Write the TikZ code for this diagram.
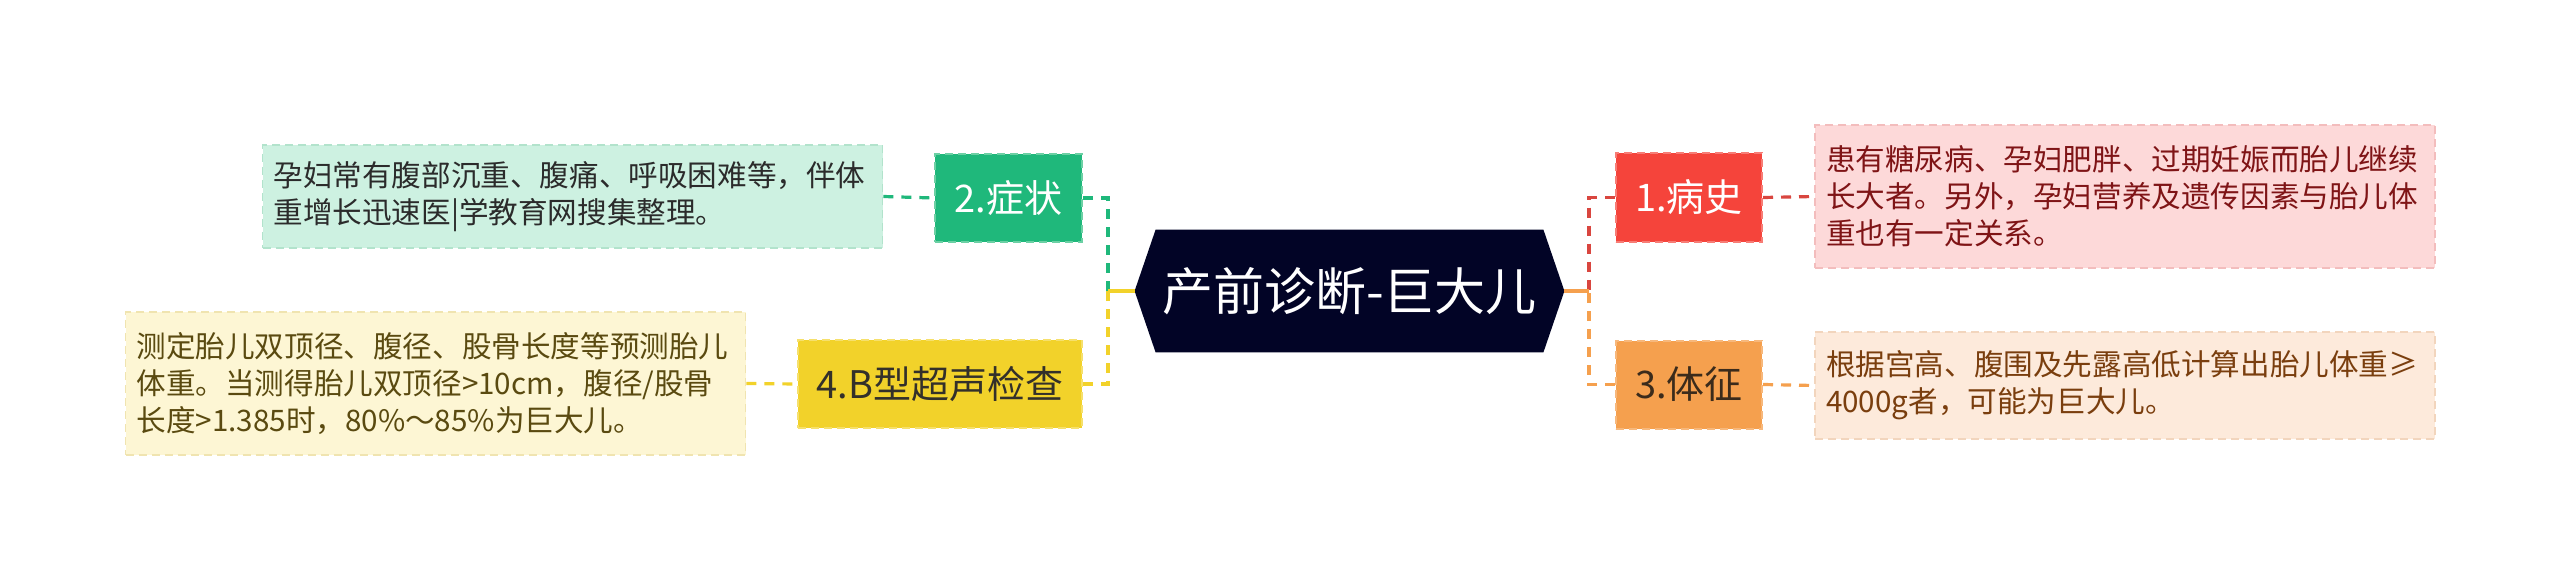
\documentclass[tikz,border=0pt]{standalone}
\usepackage{fontspec}
\setmainfont{Noto Sans CJK SC}
\usetikzlibrary{calc,backgrounds}
\definecolor{gMain}{HTML}{1FB87B}
\definecolor{gBord}{HTML}{6CD0A4}
\definecolor{gLite}{HTML}{CDF1E1}
\definecolor{gLiteB}{HTML}{B2E3CC}
\definecolor{gText}{HTML}{2B2B2B}
\definecolor{yMain}{HTML}{F2D22A}
\definecolor{yBord}{HTML}{F6E06C}
\definecolor{yLite}{HTML}{FDF6D4}
\definecolor{yLiteB}{HTML}{F0E4B0}
\definecolor{yText}{HTML}{5A4A10}
\definecolor{yLabel}{HTML}{33302A}
\definecolor{rMain}{HTML}{F5443B}
\definecolor{rBord}{HTML}{F77D76}
\definecolor{rLite}{HTML}{FDD9D9}
\definecolor{rLiteB}{HTML}{F3BDBD}
\definecolor{rText}{HTML}{7F1416}
\definecolor{rLine}{HTML}{D9463F}
\definecolor{oMain}{HTML}{F5A04E}
\definecolor{oBord}{HTML}{F7B87C}
\definecolor{oLite}{HTML}{FDEADB}
\definecolor{oLiteB}{HTML}{F2D5BD}
\definecolor{oText}{HTML}{7A3E0E}
\definecolor{oLabel}{HTML}{3B2B1B}
\definecolor{navy}{HTML}{020426}
\begin{document}
\begin{tikzpicture}[x=0.5pt,y=-0.5pt,
  mainbox/.style={draw, line width=1pt, dash pattern=on 4pt off 2.5pt, inner sep=0pt, minimum height=44pt, font=\fontsize{19}{22}\selectfont},
  detailbox/.style={draw, line width=0.8pt, dash pattern=on 4pt off 2.5pt, inner sep=0pt, align=left, minimum width=310pt, font=\fontsize{14.8}{18.5}\selectfont, text width=299pt},
  link/.style={line width=1.6pt, dash pattern=on 5pt off 4pt},
  stem/.style={line width=1.6pt}]
\useasboundingbox (0,0) rectangle (2560,583);

% central topic
\node[text=white, font=\fontsize{25.5}{30}\selectfont, minimum width=193.5pt, minimum height=61pt, inner sep=0pt] (c) at (1349.5,291) {产前诊断-巨大儿};
\coordinate (cW) at ($(c.west)+(-21,0)$);
\coordinate (cE) at ($(c.east)+(21,0)$);

% main branches
\node[mainbox, fill=gMain, draw=gBord, text=white, minimum width=73.5pt] (s2) at (1008.5,198) {2.症状};
\node[mainbox, fill=yMain, draw=yBord, text=yLabel, minimum width=142pt] (s4) at (940,384) {4.B型超声检查};
\node[mainbox, fill=rMain, draw=rBord, text=white, minimum width=73pt] (s1) at (1689,197.5) {1.病史};
\node[mainbox, fill=oMain, draw=oBord, text=oLabel, minimum width=73pt] (s3) at (1689,384.5) {3.体征};

% details
\node[detailbox, fill=gLite, draw=gLiteB, text=gText, minimum height=51.5pt] (d2) at (572.5,196.5) {孕妇常有腹部沉重、腹痛、呼吸困难等，伴体\\重增长迅速医|学教育网搜集整理。};
\node[detailbox, fill=yLite, draw=yLiteB, text=yText, minimum height=71.5pt] (d4) at (435.5,383.5) {测定胎儿双顶径、腹径、股骨长度等预测胎儿\\体重。当测得胎儿双顶径>10cm，腹径/股骨\\长度>1.385时，80\%～85\%为巨大儿。};
\node[detailbox, fill=rLite, draw=rLiteB, text=rText, minimum height=71.5pt] (d1) at (2125,196.5) {患有糖尿病、孕妇肥胖、过期妊娠而胎儿继续\\长大者。另外，孕妇营养及遗传因素与胎儿体\\重也有一定关系。};
\node[detailbox, fill=oLite, draw=oLiteB, text=oText, minimum height=53.5pt] (d3) at (2125,385.5) {根据宫高、腹围及先露高低计算出胎儿体重≥\\4000g者，可能为巨大儿。};

% junctions
\coordinate (jL) at (1108,291);
\coordinate (jR) at (1589,291);

% connectors
\draw[link, gMain] (s2.east) -| (jL);
\draw[link, yMain] (s4.east) -| (jL);
\draw[stem, yMain] (jL) -- (cW);
\draw[link, rLine] (s1.west) -| (jR);
\draw[link, oMain] (s3.west) -| (jR);
\draw[stem, oMain] (jR) -- (cE);
\draw[link, gMain] (d2.east) -- (s2.west);
\draw[link, yMain] (d4.east) -- (s4.west);
\draw[link, rLine] (s1.east) -- (d1.west);
\draw[link, oMain] (s3.east) -- (d3.west);

\begin{scope}[on background layer]
\fill[white] (0,0) rectangle (2560,583);
\fill[navy] (c.north west) -- (c.north east) -- (cE) -- (c.south east) -- (c.south west) -- (cW) -- cycle;
\end{scope}
\end{tikzpicture}
\end{document}
